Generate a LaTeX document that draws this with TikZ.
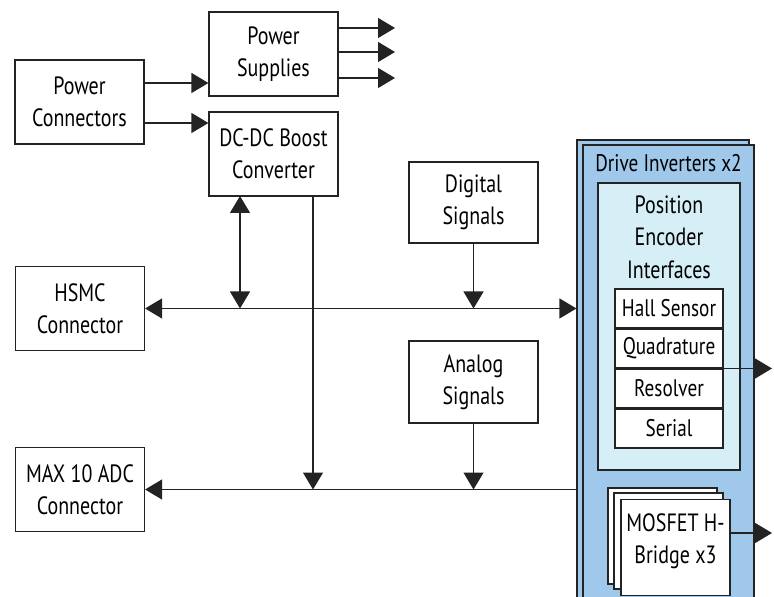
\documentclass[tikz,border=0pt]{standalone}
\usepackage{fontspec}
\setmainfont[FakeStretch=0.8]{PT Sans}
\usetikzlibrary{arrows.meta,positioning}
\definecolor{drvblue}{RGB}{160,200,235}
\definecolor{enccyan}{RGB}{214,238,245}
\definecolor{ln}{RGB}{35,35,35}
\tikzset{blk/.style = {draw=ln, fill=white, line width=0.6pt, align=center, inner sep=0,
                       minimum width=64.5pt, minimum height=42pt, font=\fontsize{12.5}{16}\selectfont}}
\tikzset{cell/.style = {blk, minimum width=54pt, minimum height=19.4pt, font=\fontsize{12}{16}\selectfont}}
\tikzset{panel/.style = {draw=ln, fill=drvblue, line width=0.6pt, inner sep=0}}
\tikzset{con/.style = {draw=ln, line width=0.6pt}}
\tikzset{arr/.style = {con, -{Triangle[length=8.5pt,width=10pt]}}}
\tikzset{darr/.style = {con, {Triangle[length=8.5pt,width=10pt]}-{Triangle[length=8.5pt,width=10pt]}}}

\begin{document}
\begin{tikzpicture}[x=0.5pt, y=-0.5pt]
  \useasboundingbox (0,0) rectangle (774,597);
  \clip (0,0) rectangle (774,597);

  % left side blocks
  \node [blk] (pconn) at (79.5,102) {Power\\Connectors};
  \node [blk] (psup) at (273.5,54) {Power\\Supplies};
  \node [blk] (boost) at (273.5,154) {DC-DC Boost\\Converter};
  \node [blk, minimum height=40.5pt] (digital) at (473.5,202.5) {Digital\\Signals};
  \node [blk, minimum height=41pt] (analog) at (473.5,382) {Analog\\Signals};
  \node [blk] (hsmc) at (80,308.5) {HSMC\\Connector};
  \node [blk] (maxadc) at (80,489.5) {MAX 10 ADC\\Connector};

  % drive inverters
  \node [panel, minimum width=86pt, minimum height=235pt] (drvback) at (663,375) {};
  \node [panel, minimum width=85.5pt, minimum height=232.5pt] (drvfront) at (668.5,377.5) {};
  \node [font=\fontsize{12}{16}\selectfont] (drvtitle) at (668.5,163) {Drive Inverters x2};
  \node [panel, fill=enccyan, minimum width=71pt, minimum height=143.5pt] (enc) at (669,326.5) {};
  \node [align=center, font=\fontsize{12.5}{16.25}\selectfont] (enctext) at (669,237) {Position\\Encoder\\Interfaces};
  \node [cell] (hall) at (669,308.5) {Hall Sensor};
  \node [cell, below=0pt of hall] (quad) {Quadrature};
  \node [cell, below=0pt of quad] (resol) {Resolver};
  \node [cell, below=0pt of resol] (serial) {Serial};
  \node [blk, minimum width=54.5pt, minimum height=48pt] (hbback) at (662.5,536) {};
  \node [blk, minimum width=54.5pt, minimum height=48pt] (hbmid) at (668.5,541) {};
  \node [blk, minimum width=54.5pt, minimum height=48pt] (hbfront) at (675.5,547.5) {MOSFET H-\\Bridge x3\rule[-9pt]{0pt}{9pt}};

  % free ends
  \coordinate (ps1) at (395,28);
  \coordinate (ps2) at (395,52);
  \coordinate (ps3) at (395,78);
  \coordinate (encout) at (772,367);
  \coordinate (hbout) at (772,533);
  \coordinate (boostA) at (240,196);
  \coordinate (boostB) at (313,196);

  % power connections
  \draw [arr] (pconn.east |- 0,83) -- (psup.west |- 0,83);
  \draw [arr] (pconn.east |- 0,123) -- (boost.west |- 0,123);
  \draw [arr] (psup.east |- ps1) -- (ps1);
  \draw [arr] (psup.east |- ps2) -- (ps2);
  \draw [arr] (psup.east |- ps3) -- (ps3);

  % buses
  \draw [darr] (hsmc.east) -- (drvback.west |- hsmc.east);
  \draw [arr] (drvback.west |- maxadc.east) -- (maxadc.east);
  \draw [darr] (boostA) -- (boostA |- hsmc.east);
  \draw [arr] (boostB) -- (boostB |- maxadc.east);
  \draw [arr] (digital.south) -- (digital.south |- hsmc.east);
  \draw [arr] (analog.south) -- (analog.south |- maxadc.east);

  % outputs
  \draw [arr] (quad.south east) -- (quad.south east -| encout);
  \draw [arr] (hbfront.east |- hbout) -- (hbout);
\end{tikzpicture}
\end{document}
